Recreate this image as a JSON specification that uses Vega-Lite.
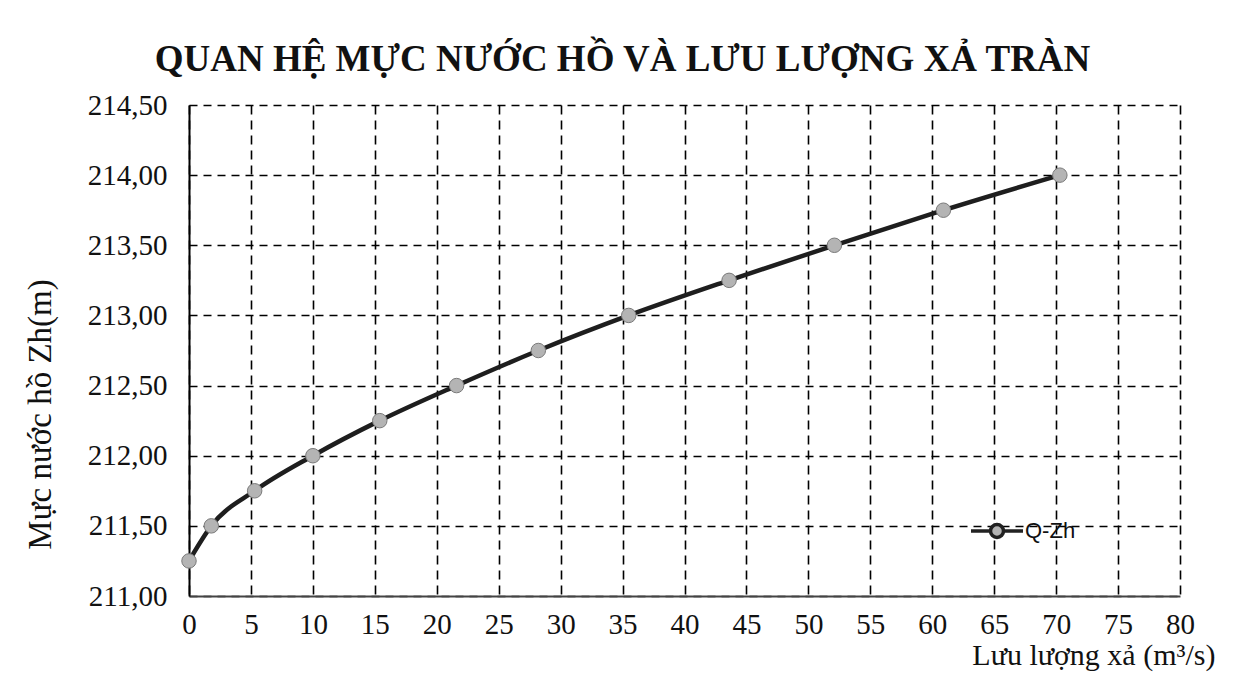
{
  "$schema": "https://vega.github.io/schema/vega-lite/v6.json",
  "autosize": "none",
  "width": 991,
  "height": 491,
  "padding": {"left": 189, "top": 105, "right": 61, "bottom": 81},
  "background": "white",
  "title": {
    "text": "QUAN HỆ MỰC NƯỚC HỒ VÀ LƯU LƯỢNG XẢ TRÀN",
    "font": "Liberation Serif",
    "fontSize": 37,
    "fontWeight": "bold",
    "color": "#111",
    "anchor": "middle",
    "dx": -62,
    "dy": 39,
    "baseline": "alphabetic",
    "offset": 22
  },
  "data": {
    "values": [
      {"Q": 0, "Z": 211.25, "s": "Q-Zh"},
      {"Q": 1.8, "Z": 211.5, "s": "Q-Zh"},
      {"Q": 5.3, "Z": 211.75, "s": "Q-Zh"},
      {"Q": 10.0, "Z": 212.0, "s": "Q-Zh"},
      {"Q": 15.4, "Z": 212.25, "s": "Q-Zh"},
      {"Q": 21.6, "Z": 212.5, "s": "Q-Zh"},
      {"Q": 28.2, "Z": 212.75, "s": "Q-Zh"},
      {"Q": 35.5, "Z": 213.0, "s": "Q-Zh"},
      {"Q": 43.6, "Z": 213.25, "s": "Q-Zh"},
      {"Q": 52.1, "Z": 213.5, "s": "Q-Zh"},
      {"Q": 60.9, "Z": 213.75, "s": "Q-Zh"},
      {"Q": 70.3, "Z": 214.0, "s": "Q-Zh"}
    ]
  },
  "encoding": {
    "x": {
      "field": "Q",
      "type": "quantitative",
      "scale": {"domain": [0, 80], "nice": false, "zero": false},
      "axis": {
        "values": [0, 5, 10, 15, 20, 25, 30, 35, 40, 45, 50, 55, 60, 65, 70, 75, 80],
        "title": "Lưu lượng xả (m³/s)",
        "titleFont": "Liberation Serif",
        "titleFontSize": 30,
        "titleFontWeight": "normal",
        "titleColor": "#111",
        "titleAlign": "right",
        "titleAnchor": "end",
        "titleX": 1026,
        "titleY": 68,
        "titleBaseline": "alphabetic",
        "labelFont": "Liberation Serif",
        "labelFontSize": 29,
        "labelColor": "#111",
        "labelPadding": 14,
        "labelBaseline": "top",
        "labelFlush": false,
        "labelOverlap": false,
        "ticks": false,
        "domain": true,
        "domainColor": "#444",
        "domainWidth": 2,
        "grid": true,
        "gridColor": "#000",
        "gridWidth": 1.6,
        "gridDash": [9, 6],
        "gridOpacity": 1
      }
    },
    "y": {
      "field": "Z",
      "type": "quantitative",
      "scale": {"domain": [211, 214.5], "nice": false, "zero": false},
      "axis": {
        "values": [211, 211.5, 212, 212.5, 213, 213.5, 214, 214.5],
        "labelExpr": "replace(format(datum.value, '.2f'), '.', ',')",
        "title": "Mực nước hồ Zh(m)",
        "titleFont": "Liberation Serif",
        "titleFontSize": 33,
        "titleFontWeight": "normal",
        "titleColor": "#111",
        "titleAngle": -90,
        "titleAlign": "center",
        "titleBaseline": "middle",
        "titleX": -149,
        "titleY": 309,
        "labelFont": "Liberation Serif",
        "labelFontSize": 29,
        "labelColor": "#111",
        "labelPadding": 22,
        "labelFlush": false,
        "labelOverlap": false,
        "ticks": false,
        "domain": true,
        "domainColor": "#000",
        "domainWidth": 2,
        "grid": true,
        "gridColor": "#000",
        "gridWidth": 1.6,
        "gridDash": [8, 6],
        "gridOpacity": 1
      }
    }
  },
  "layer": [
    {
      "mark": {"type": "line", "interpolate": "monotone", "stroke": "#1e1e1e", "strokeWidth": 4.5},
      "encoding": {}
    },
    {
      "mark": {"type": "point", "shape": "circle", "filled": true, "size": 210, "fill": "#b4b4b4", "stroke": "#7a7a7a", "strokeWidth": 1, "opacity": 1},
      "encoding": {
        "color": {
          "field": "s",
          "type": "nominal",
          "scale": {"range": ["#b4b4b4"]},
          "legend": {
            "title": null,
            "orient": "none",
            "legendX": 780,
            "legendY": 398,
            "padding": 0,
            "symbolType": "M -1 0 L -0.25 0 M 0.25 0 L 1 0 M -0.25 0 A 0.25 0.25 0 1 1 0.25 0 A 0.25 0.25 0 1 1 -0.25 0 Z",
            "symbolSize": 2704,
            "symbolFillColor": "#b4b4b4",
            "symbolStrokeColor": "#222",
            "symbolStrokeWidth": 3.5,
            "symbolOpacity": 1,
            "labelFont": "Liberation Sans",
            "labelFontSize": 22,
            "labelColor": "#111",
            "labelOffset": 0
          }
        }
      }
    }
  ],
  "config": {"view": {"stroke": null}}
}
